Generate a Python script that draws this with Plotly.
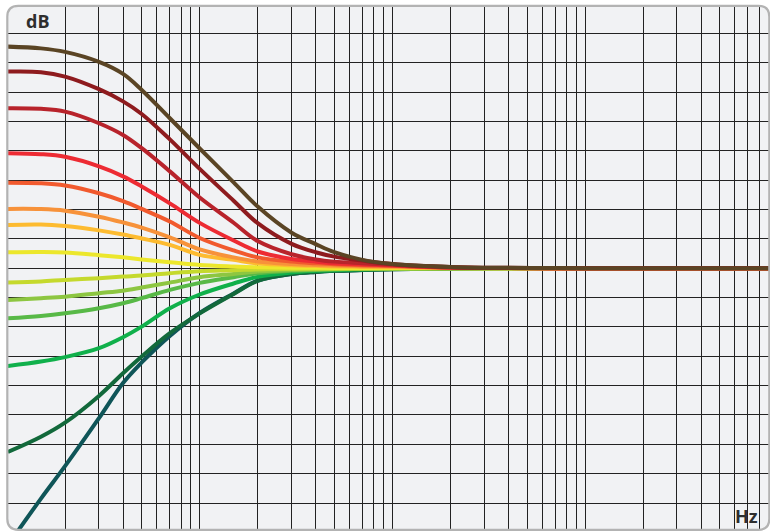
import plotly.graph_objects as go

# ---------------- data ----------------
freqs_hz = [10.1, 15, 20, 30, 40, 50, 70, 100, 150, 200, 300, 400, 500, 700,
            1000, 2000, 10000, 90000]

gain_brown = [15.10, 14.98, 14.74, 14.06, 13.24, 12.15, 10.22, 8.16, 5.85, 4.20,
              2.42, 1.64, 1.09, 0.57, 0.29, 0.09, 0.0, 0.0]
gain_darkred = [13.40, 13.36, 13.06, 12.20, 11.37, 10.51, 8.78, 6.77, 4.60, 3.07,
                1.66, 1.09, 0.79, 0.52, 0.29, 0.09, 0.0, 0.0]
gain_red = [10.90, 10.86, 10.67, 9.88, 9.08, 8.18, 6.60, 4.82, 3.10, 1.85,
            0.95, 0.60, 0.45, 0.34, 0.23, 0.05, 0.0, 0.0]
gain_brightred = [7.84, 7.77, 7.59, 6.94, 6.26, 5.57, 4.42, 3.09, 1.89, 1.14,
                  0.63, 0.45, 0.34, 0.26, 0.18, 0.05, 0.0, 0.0]
gain_orangered = [5.83, 5.79, 5.64, 5.11, 4.57, 4.04, 3.18, 2.06, 1.21, 0.74,
                  0.45, 0.34, 0.27, 0.20, 0.16, 0.04, 0.0, 0.0]
gain_orange = [4.04, 4.03, 3.92, 3.51, 3.12, 2.77, 2.11, 1.28, 0.74, 0.46,
               0.29, 0.22, 0.18, 0.14, 0.11, 0.02, 0.0, 0.0]
gain_amber = [2.95, 2.98, 2.87, 2.58, 2.30, 2.03, 1.59, 0.91, 0.57, 0.33,
              0.20, 0.16, 0.12, 0.09, 0.07, 0.01, 0.0, 0.0]
gain_yellow = [1.08, 1.10, 1.07, 0.89, 0.74, 0.60, 0.41, 0.22, 0.12, 0.07,
               0.04, 0.03, 0.02, 0.01, 0.01, 0.0, 0.0, 0.0]
gain_yellowgreen = [-0.98, -0.90, -0.80, -0.68, -0.57, -0.50, -0.34, -0.20, -0.14, -0.08,
                    -0.05, -0.04, -0.03, -0.02, -0.01, 0.0, 0.0, 0.0]
gain_lightgreen = [-2.16, -2.04, -1.94, -1.70, -1.53, -1.32, -0.98, -0.61, -0.39, -0.23,
                   -0.12, -0.08, -0.06, -0.04, -0.03, -0.01, 0.0, 0.0]
gain_green = [-3.41, -3.25, -3.07, -2.73, -2.39, -2.04, -1.48, -1.00, -0.61, -0.35,
              -0.18, -0.12, -0.08, -0.05, -0.03, -0.01, 0.0, 0.0]
gain_emerald = [-6.66, -6.36, -6.06, -5.45, -4.70, -3.98, -2.73, -1.79, -1.04, -0.59,
                -0.29, -0.18, -0.13, -0.08, -0.05, -0.01, 0.0, 0.0]
gain_darkgreen = [-12.52, -11.48, -10.52, -8.70, -7.16, -6.02, -4.43, -3.08, -1.75, -0.87,
                  -0.39, -0.25, -0.18, -0.12, -0.07, -0.02, 0.0, 0.0]
gain_teal = [-18.87, -15.70, -13.49, -10.22, -7.82, -6.42, -4.61, -3.05, -1.72, -0.84,
             -0.39, -0.25, -0.18, -0.12, -0.07, -0.02, 0.0, 0.0]

# drawn bottom-up so the warm curves lie on top where they merge
series = [
    ("teal", gain_teal, "#0f5558"),
    ("dark green", gain_darkgreen, "#12693b"),
    ("emerald", gain_emerald, "#10b04b"),
    ("green", gain_green, "#58b947"),
    ("light green", gain_lightgreen, "#8dc641"),
    ("yellow green", gain_yellowgreen, "#c5d92d"),
    ("yellow", gain_yellow, "#ece72c"),
    ("amber", gain_amber, "#fdbb30"),
    ("orange", gain_orange, "#f7923a"),
    ("orange red", gain_orangered, "#f15a2e"),
    ("bright red", gain_brightred, "#ed2b33"),
    ("red", gain_red, "#b8232b"),
    ("dark red", gain_darkred, "#8e1b1e"),
    ("brown", gain_brown, "#5a4424"),
]

# ---------------- figure ----------------
W, H = 770, 531
ML, MR, MT, MB = 8, 1, 7, 2
PW, PH = W - ML - MR, H - MT - MB

fig = go.Figure()
for name, vals, col in series:
    fig.add_trace(go.Scatter(
        x=freqs_hz, y=vals, mode="lines", name=name,
        line=dict(color=col, width=4, shape="spline", smoothing=1.0),
        hoverinfo="skip", showlegend=False,
    ))

def px2paper(x, y):
    return (x - ML) / PW, 1 - (y - MT) / PH

def rounded_path(x0, y0, x1, y1, r):
    def P(x, y):
        px, py = px2paper(x, y)
        return f"{px:.5f},{py:.5f}"
    return (f"M {P(x0 + r, y0)} L {P(x1 - r, y0)} Q {P(x1, y0)} {P(x1, y0 + r)} "
            f"L {P(x1, y1 - r)} Q {P(x1, y1)} {P(x1 - r, y1)} "
            f"L {P(x0 + r, y1)} Q {P(x0, y1)} {P(x0, y1 - r)} "
            f"L {P(x0, y0 + r)} Q {P(x0, y0)} {P(x0 + r, y0)} Z")

box = rounded_path(7.3, 5.8, 769.3, 529.8, 11)
fig.add_shape(type="path", path=box, xref="paper", yref="paper",
              fillcolor="#f1f2f4", line=dict(width=0), layer="below")
fig.add_shape(type="path", path=box, xref="paper", yref="paper",
              fillcolor="rgba(0,0,0,0)", line=dict(color="#b3b3b3", width=2.2), layer="above")

dbx, dby = px2paper(37, 20.5)
hzx, hzy = px2paper(746.5, 516)
label_font = dict(family="Open Sans, Noto Sans, sans-serif", size=18, color="#2e2e2e")
fig.add_annotation(text="<b>dB</b>", x=dbx, y=dby, xref="paper", yref="paper",
                   xanchor="center", yanchor="middle", showarrow=False, font=label_font)
fig.add_annotation(text="<b>Hz</b>", x=hzx, y=hzy, xref="paper", yref="paper",
                   xanchor="center", yanchor="middle", showarrow=False, font=label_font)

fig.update_xaxes(type="log", range=[1.005, 4.955], dtick="D1", showticklabels=False,
                 showgrid=True, gridcolor="#222222", gridwidth=1, zeroline=False,
                 showline=False, ticks="")
fig.update_yaxes(range=[-17.77, 17.80], dtick=2, tick0=0, showticklabels=False,
                 showgrid=True, gridcolor="#222222", gridwidth=1, zeroline=False,
                 showline=False, ticks="")

fig.update_layout(
    width=W, height=H,
    margin=dict(l=ML, r=MR, t=MT, b=MB, pad=0),
    paper_bgcolor="white", plot_bgcolor="rgba(0,0,0,0)",
    showlegend=False, hovermode=False,
)

fig.write_html("out.html", config={"displayModeBar": False, "staticPlot": True},
               post_script="document.body.style.margin='0px';document.body.style.overflow='hidden';")
